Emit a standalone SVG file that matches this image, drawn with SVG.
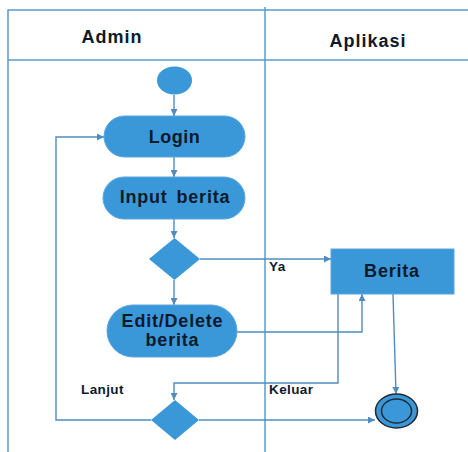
<svg xmlns="http://www.w3.org/2000/svg" width="468" height="452" viewBox="0 0 468 452">
<defs>
<style>
.lane{fill:none;stroke:#5b9bc9;stroke-width:1.5}
.act{fill:#3a98d9;stroke:#5aa6dc;stroke-width:1}
.t{font-family:"Liberation Sans",Arial,sans-serif;font-weight:bold;fill:#0e1a2b;text-anchor:middle}
.hd{font-size:18px;letter-spacing:1px}
.nt{font-size:18px}
.lb{font-size:13.5px;text-anchor:start;letter-spacing:0.4px}
.c{fill:none;stroke:#4f8cc0;stroke-width:1.4}
</style>
<marker id="ah" viewBox="0 0 10 10" refX="10" refY="5" markerWidth="8" markerHeight="7" markerUnits="userSpaceOnUse" orient="auto">
<path d="M0,0 L10,5 L0,10 z" fill="#4f8cc0"/>
</marker>
</defs>
<rect width="468" height="452" fill="#ffffff"/>
<g id="swimlanes">
<path class="lane" d="M8,452 V10 H468"/>
<path class="lane" d="M8,60 H468"/>
<path class="lane" d="M265,7 V452"/>
<text class="t hd" x="112" y="43">Admin</text>
<text class="t hd" x="368" y="47">Aplikasi</text>
</g>
<g id="connectors">
<path class="c" d="M174,95 V116" marker-end="url(#ah)"/>
<path class="c" d="M174,157 V177" marker-end="url(#ah)"/>
<path class="c" d="M174,219 V238" marker-end="url(#ah)"/>
<path class="c" d="M200,259 H331" marker-end="url(#ah)"/>
<path class="c" d="M174,280 V305" marker-end="url(#ah)"/>
<path class="c" d="M237,332 H362 V294" marker-end="url(#ah)"/>
<path class="c" d="M338,294 V383 H174 V400" marker-end="url(#ah)"/>
<path class="c" d="M151,420 H56 V137 H104" marker-end="url(#ah)"/>
<path class="c" d="M199,420 H375" marker-end="url(#ah)"/>
<path class="c" d="M393,294 L396,394" marker-end="url(#ah)"/>
<text class="t lb" x="269" y="271" font-size="13px">Ya</text>
<text class="t lb" x="81" y="394">Lanjut</text>
<text class="t lb" x="269" y="394">Keluar</text>
</g>
<g id="start">
<ellipse cx="174.5" cy="80.5" rx="17.5" ry="14" fill="#3a98d9"/>
</g>
<g id="login">
<rect class="act" x="104" y="116" width="141" height="41" rx="20.5"/>
<text class="t nt" x="174.5" y="143" letter-spacing="0.5">Login</text>
</g>
<g id="input-berita">
<rect class="act" x="103" y="177" width="142" height="42" rx="21"/>
<text class="t nt" x="175" y="203" letter-spacing="0.8" word-spacing="3">Input berita</text>
</g>
<g id="decision1">
<path d="M174.5,238 L200,259 L174.5,280 L149,259 Z" fill="#3a98d9"/>
</g>
<g id="edit-delete">
<rect class="act" x="107" y="305" width="130" height="52" rx="26"/>
<text class="t nt" x="172.5" y="327" letter-spacing="0.8">Edit/Delete</text>
<text class="t nt" x="172.5" y="346" letter-spacing="0.8">berita</text>
</g>
<g id="berita">
<rect class="act" x="331" y="249" width="123" height="45"/>
<text class="t nt" x="392" y="277" letter-spacing="0.8">Berita</text>
</g>
<g id="decision2">
<path d="M175,400 L199,420 L175,440 L151,420 Z" fill="#3a98d9"/>
</g>
<g id="end">
<ellipse cx="396.5" cy="411" rx="21" ry="17" fill="#3a98d9" stroke="#1e2a36" stroke-width="1.5"/>
<ellipse cx="396.5" cy="411" rx="15" ry="12" fill="#3a98d9" stroke="#1e2a36" stroke-width="1.5"/>
</g>
</svg>
